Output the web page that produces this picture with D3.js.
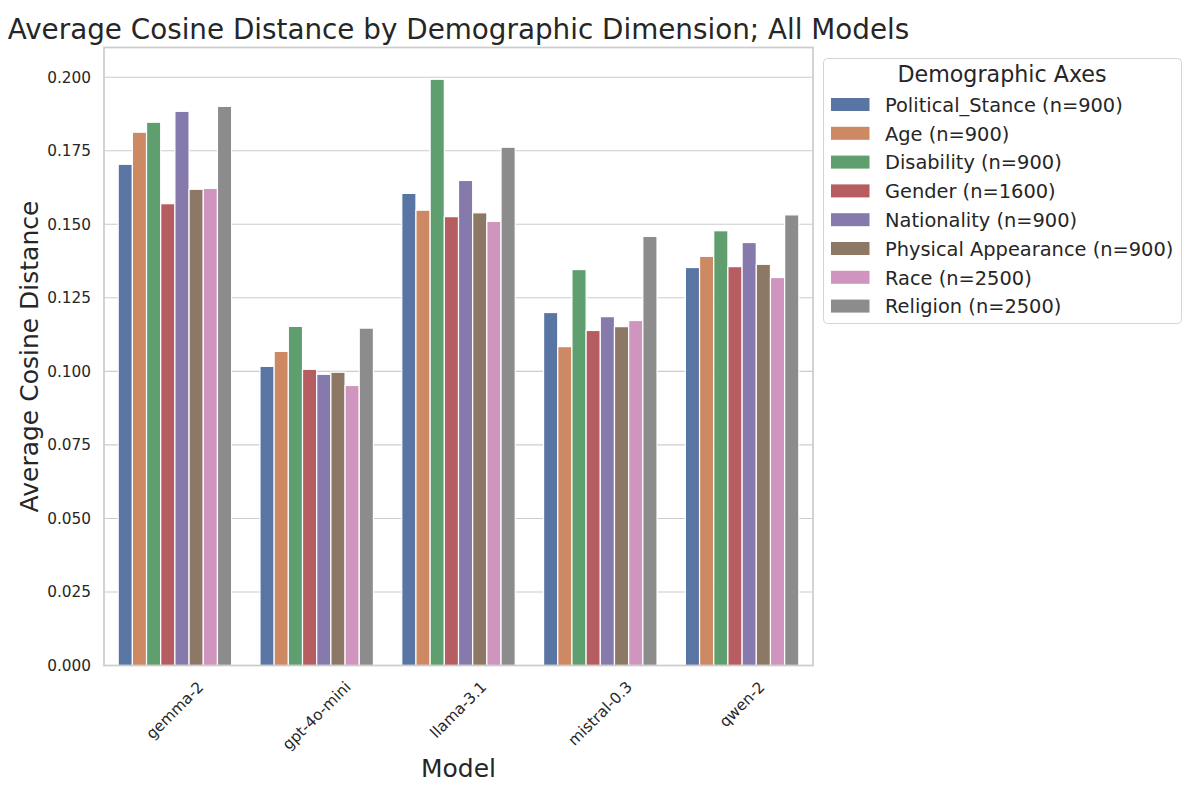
<!DOCTYPE html>
<html>
<head>
<meta charset="utf-8">
<script src="https://cdn.jsdelivr.net/npm/d3@7"></script>
<style>
  html, body { margin: 0; padding: 0; background: #fff; }
  svg { display: block; font-family: "DejaVu Sans", sans-serif; }
</style>
</head>
<body>
<svg id="chart" width="1200" height="800"></svg>
<script>
// ---- data ----
const models = ["gemma-2", "gpt-4o-mini", "llama-3.1", "mistral-0.3", "qwen-2"];
const axesLabels = [
  "Political_Stance (n=900)", "Age (n=900)", "Disability (n=900)", "Gender (n=1600)",
  "Nationality (n=900)", "Physical Appearance (n=900)", "Race (n=2500)", "Religion (n=2500)"
];
const politicalStance    = [0.1704, 0.1017, 0.1605, 0.1200, 0.1353];
const age                = [0.1813, 0.1068, 0.1548, 0.1084, 0.1391];
const disability         = [0.1847, 0.1153, 0.1993, 0.1346, 0.1478];
const gender             = [0.1570, 0.1007, 0.1526, 0.1139, 0.1356];
const nationality        = [0.1884, 0.0990, 0.1649, 0.1186, 0.1438];
const physicalAppearance = [0.1619, 0.0997, 0.1539, 0.1152, 0.1364];
const race               = [0.1622, 0.0952, 0.1510, 0.1173, 0.1319];
const religion           = [0.1901, 0.1147, 0.1762, 0.1459, 0.1532];
const yTicks = [0.000, 0.025, 0.050, 0.075, 0.100, 0.125, 0.150, 0.175, 0.200];

const seriesValues = [politicalStance, age, disability, gender, nationality, physicalAppearance, race, religion];
const colors = ["#5975a4", "#cc8963", "#5f9e6e", "#b55d60", "#857aab", "#8d7866", "#d095bf", "#8c8c8c"];

// ---- layout ----
const svg = d3.select("#chart");
const L = 104, R = 813, T = 47.5, B = 665.5;
const textColor = "#262626";
const gridColor = "#cccccc";

const x0 = d3.scaleBand().domain(models).range([L, R]).paddingInner(0).paddingOuter(0);
const x1 = d3.scaleBand().domain(axesLabels).range([0, x0.bandwidth() * 0.8]);
const y = d3.scaleLinear().domain([0, 0.2101]).range([B, T]);

// grid
svg.append("g").selectAll("line").data(yTicks).join("line")
  .attr("x1", L).attr("x2", R)
  .attr("y1", d => y(d)).attr("y2", d => y(d))
  .attr("stroke", gridColor).attr("stroke-width", 1.1);

// bars
const rows = [];
models.forEach((m, i) => {
  axesLabels.forEach((a, j) => rows.push({ model: m, axis: a, j, value: seriesValues[j][i] }));
});
svg.append("g").selectAll("rect").data(rows).join("rect")
  .attr("x", d => x0(d.model) + x0.bandwidth() * 0.1 + x1(d.axis))
  .attr("width", x1.bandwidth())
  .attr("y", d => y(d.value))
  .attr("height", d => y(0) - y(d.value))
  .attr("fill", d => colors[d.j])
  .attr("stroke", "#ffffff").attr("stroke-width", 1.2);

// spines
svg.append("rect").attr("x", L).attr("y", T).attr("width", R - L).attr("height", B - T)
  .attr("fill", "none").attr("stroke", gridColor).attr("stroke-width", 1.7);

// y axis via d3 axis
const yAxis = d3.axisLeft(y).tickValues(yTicks).tickFormat(d3.format(".3f")).tickSize(0).tickPadding(13);
const gy = svg.append("g").attr("transform", `translate(${L},0)`).call(yAxis);
gy.select(".domain").remove();
gy.selectAll("text").attr("font-size", "15.3px").attr("fill", textColor)
  .attr("font-family", "DejaVu Sans");

// x axis labels rotated
const xAxis = d3.axisBottom(x0).tickSize(0).tickPadding(0);
const gx = svg.append("g").attr("transform", `translate(0,${B})`).call(xAxis);
gx.select(".domain").remove();
gx.selectAll(".tick text").each(function() {
  const t = d3.select(this);
  t.attr("font-size", "15.3px").attr("fill", textColor).attr("font-family", "DejaVu Sans")
    .attr("dy", null).attr("y", 0).attr("text-anchor", "middle").attr("dominant-baseline", "central");
  const w = this.getComputedTextLength();
  const h = 15.3 * 1.1;
  const half = (w + h) * Math.SQRT1_2 / 2;
  t.attr("transform", `translate(0,${13 + half}) rotate(-45)`);
});

// axis titles
svg.append("text").attr("x", (L + R) / 2).attr("y", 777)
  .attr("text-anchor", "middle").attr("font-size", "25px").attr("fill", textColor)
  .text("Model");
svg.append("text").attr("transform", `translate(38,${(T + B) / 2}) rotate(-90)`)
  .attr("text-anchor", "middle").attr("font-size", "25px").attr("fill", textColor)
  .text("Average Cosine Distance");

// title
svg.append("text").attr("x", (L + R) / 2).attr("y", 39)
  .attr("text-anchor", "middle").attr("font-size", "27.8px").attr("fill", textColor)
  .text("Average Cosine Distance by Demographic Dimension; All Models");

// legend
const lg = svg.append("g");
lg.append("rect").attr("x", 823.5).attr("y", 58.5).attr("width", 358).attr("height", 265)
  .attr("rx", 4).attr("fill", "#ffffff").attr("fill-opacity", 0.8)
  .attr("stroke", "#d5d5d5").attr("stroke-width", 1);
lg.append("text").attr("x", 1002).attr("y", 82).attr("text-anchor", "middle")
  .attr("font-size", "22.2px").attr("fill", textColor).text("Demographic Axes");
const items = lg.selectAll("g.item").data(axesLabels).join("g").attr("class", "item")
  .attr("transform", (d, i) => `translate(0,${104.5 + i * 28.8})`);
items.append("rect").attr("x", 831).attr("y", -6.5).attr("width", 38.5).attr("height", 13)
  .attr("fill", (d, i) => colors[i]);
items.append("text").attr("x", 885).attr("y", 7.2)
  .attr("font-size", "19.4px").attr("fill", textColor).text(d => d);
</script>
</body>
</html>
